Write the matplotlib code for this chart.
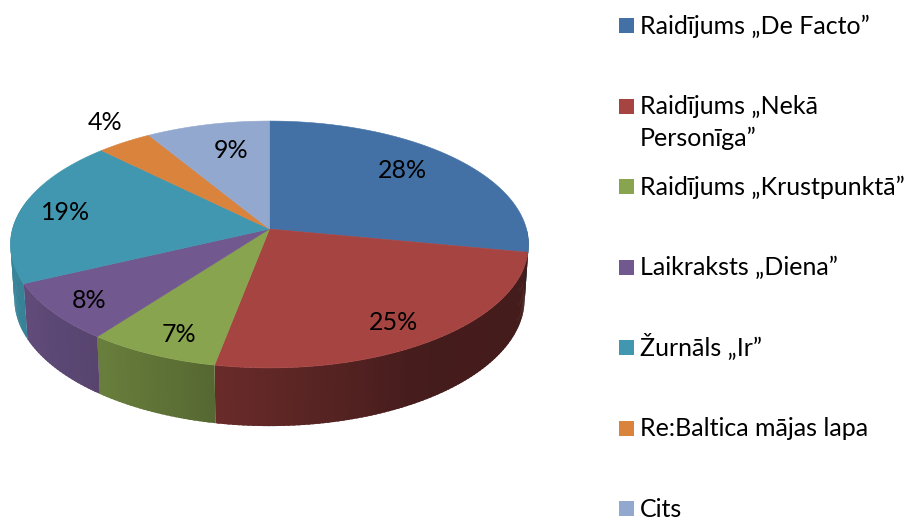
import numpy as np
import matplotlib
matplotlib.use("Agg")
import matplotlib.pyplot as plt
from matplotlib.patches import Rectangle

# share of each slice, clockwise from 12 o'clock
labels = ["Raidījums „De Facto”", "Raidījums „Nekā\nPersonīga”", "Raidījums „Krustpunktā”",
          "Laikraksts „Diena”", "Žurnāls „Ir”", "Re:Baltica mājas lapa", "Cits"]
shares = [28, 25, 7.3, 7.7, 19.4, 3.9, 8.7]
colors = ["#4371a6", "#a64442", "#88a44e", "#71588f", "#4097af", "#d9833c", "#92a8cf"]
label_xy = [(402, 170), (394, 322), (179, 335), (89, 301), (66, 212), (105, 122), (231, 150)]

# fake 3d geometry, in pixels
cx, cy = 269.5, 229
b, a, k = 257, 121.5, 0.1255
depth, sx, sy = 54, 0.985, 1.03

# how dark the rim gets, by angle
shade_ang = [90, 150, 190, 216, 245, 270, 280]
shade_val = [0.40, 0.42, 0.63, 0.77, 0.86, 0.88, 0.88]


def top_pt(deg):
    t = np.radians(deg)
    den = 1 + k * np.cos(t)
    return cx + b * np.sin(t) / den, cy - a * np.cos(t) / den


def bottom_pt(deg):
    x, y = top_pt(deg)
    return cx + sx * (x - cx), cy + depth + sy * (y - cy)


def darker(col, f):
    return tuple(c * f for c in matplotlib.colors.to_rgb(col))


plt.rcParams['font.family'] = ['Lato', 'DejaVu Sans']
fig = plt.figure(figsize=(9.07, 5.19), dpi=100)
ax = fig.add_axes([0, 0, 1, 1])
ax.set_xlim(0, 907)
ax.set_ylim(519, 0)
ax.axis("off")

edges = np.cumsum([0] + shares) * 3.6

# rim first, the top goes over it. strips overlap a bit so no seams show
for i in range(len(shares)):
    start = max(edges[i], 90)
    stop = min(edges[i + 1], 285)
    if stop <= start:
        continue
    steps = np.arange(start, stop + 1, 1.0)
    steps[-1] = stop
    for p, q in zip(steps[:-1], steps[1:]):
        arc = np.array([p, min(q + 0.7, stop)])
        xt, yt = top_pt(arc)
        xb, yb = bottom_pt(arc)
        col = darker(colors[i], np.interp((p + q) / 2, shade_ang, shade_val))
        ax.fill(np.r_[xt, xb[::-1]], np.r_[yt, yb[::-1]], color=col, lw=0)

for i in range(len(shares)):
    arc = np.linspace(edges[i], edges[i + 1], 120)
    xs, ys = top_pt(arc)
    ax.fill(np.r_[cx, xs], np.r_[cy, ys], color=colors[i], lw=0.4)

for s, (x, y) in zip(shares, label_xy):
    ax.text(x, y, "%d%%" % round(s), ha="center", va="center", fontsize=18, color="black")

# legend, one row every 80.5 px, wrapped lines 32 px apart
for i, name in enumerate(labels):
    y = 25.7 + 80.5 * i
    ax.add_patch(Rectangle((619, y - 7.5), 15, 15, color=colors[i], lw=0))
    for j, line in enumerate(name.split("\n")):
        ax.text(640, y + 8 + 32 * j, line, ha="left", va="baseline", fontsize=18, color="black")

fig.savefig("out.png", dpi=100)
